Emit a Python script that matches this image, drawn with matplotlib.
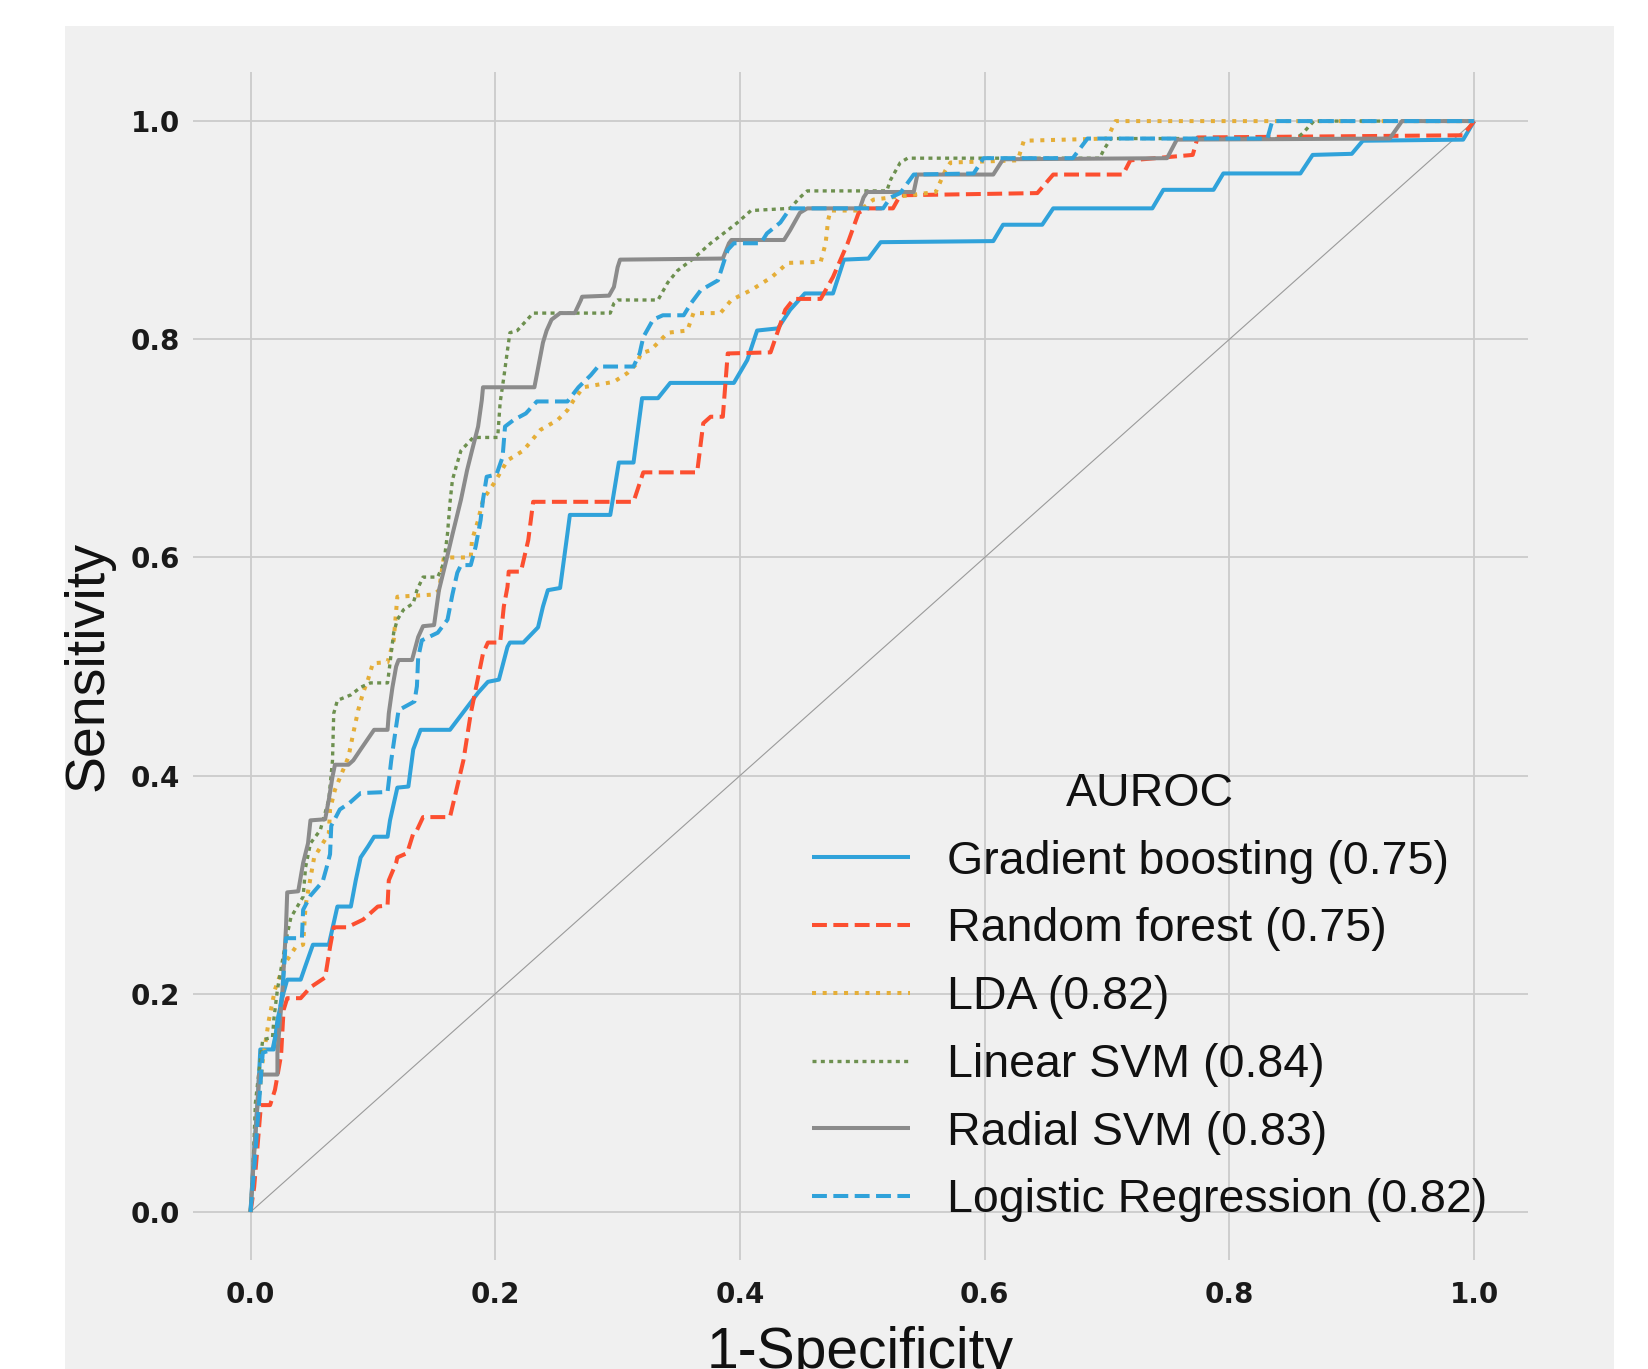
import matplotlib
matplotlib.use("Agg")
import matplotlib.pyplot as plt
from matplotlib.patches import Rectangle

# ---------------- data ----------------
models = ["Gradient boosting", "Random forest", "LDA", "Linear SVM", "Radial SVM", "Logistic Regression"]
auroc = [0.75, 0.75, 0.82, 0.84, 0.83, 0.82]

gb_fpr = [0, 0.003, 0.006, 0.008, 0.019, 0.022, 0.027, 0.030, 0.041, 0.045, 0.051, 0.064, 0.071, 0.082, 0.086, 0.090,
          0.096, 0.101, 0.112, 0.114, 0.120, 0.129, 0.133, 0.139, 0.163, 0.186, 0.194, 0.203, 0.210, 0.212, 0.223, 0.235,
          0.239, 0.243, 0.253, 0.259, 0.261, 0.294, 0.301, 0.313, 0.320, 0.333, 0.343, 0.395, 0.406, 0.414, 0.431, 0.441,
          0.453, 0.476, 0.485, 0.505, 0.515, 0.607, 0.615, 0.647, 0.656, 0.737, 0.746, 0.787, 0.795, 0.858, 0.868, 0.900,
          0.909, 0.991, 1.0]
gb_tpr = [0, 0.057, 0.103, 0.149, 0.149, 0.176, 0.201, 0.213, 0.213, 0.226, 0.245, 0.245, 0.280, 0.280, 0.304, 0.325,
          0.335, 0.344, 0.344, 0.359, 0.389, 0.390, 0.424, 0.442, 0.442, 0.476, 0.486, 0.488, 0.518, 0.522, 0.522, 0.536,
          0.555, 0.570, 0.572, 0.622, 0.639, 0.639, 0.687, 0.687, 0.746, 0.746, 0.760, 0.760, 0.781, 0.808, 0.810, 0.827,
          0.842, 0.842, 0.873, 0.874, 0.889, 0.890, 0.905, 0.905, 0.920, 0.920, 0.937, 0.937, 0.952, 0.952, 0.969, 0.970,
          0.982, 0.983, 1.0]

rf_fpr = [0, 0.003, 0.008, 0.008, 0.016, 0.020, 0.025, 0.027, 0.030, 0.041, 0.049, 0.061, 0.065, 0.068, 0.079, 0.092,
          0.104, 0.112, 0.113, 0.119, 0.120, 0.128, 0.133, 0.136, 0.141, 0.163, 0.174, 0.180, 0.186, 0.190, 0.194, 0.204,
          0.207, 0.210, 0.211, 0.221, 0.227, 0.231, 0.313, 0.321, 0.365, 0.370, 0.376, 0.386, 0.390, 0.425, 0.437, 0.444,
          0.466, 0.476, 0.488, 0.497, 0.504, 0.525, 0.531, 0.643, 0.656, 0.713, 0.719, 0.770, 0.774, 0.991, 1.0]
rf_tpr = [0, 0.023, 0.091, 0.098, 0.098, 0.112, 0.144, 0.185, 0.196, 0.196, 0.206, 0.215, 0.243, 0.261, 0.261, 0.268,
          0.280, 0.281, 0.304, 0.320, 0.325, 0.329, 0.347, 0.350, 0.362, 0.362, 0.414, 0.457, 0.490, 0.512, 0.522, 0.522,
          0.555, 0.573, 0.587, 0.587, 0.616, 0.651, 0.651, 0.678, 0.678, 0.723, 0.729, 0.729, 0.787, 0.788, 0.827, 0.837,
          0.837, 0.857, 0.888, 0.916, 0.920, 0.920, 0.932, 0.934, 0.951, 0.951, 0.964, 0.969, 0.985, 0.987, 1.0]

lda_fpr = [0, 0.003, 0.006, 0.010, 0.015, 0.020, 0.027, 0.037, 0.043, 0.045, 0.052, 0.064, 0.065, 0.069, 0.080, 0.084,
           0.088, 0.092, 0.096, 0.100, 0.112, 0.117, 0.120, 0.150, 0.154, 0.158, 0.180, 0.181, 0.186, 0.190, 0.199, 0.210,
           0.223, 0.237, 0.251, 0.259, 0.264, 0.272, 0.297, 0.308, 0.316, 0.319, 0.327, 0.341, 0.357, 0.362, 0.384, 0.393,
           0.409, 0.426, 0.439, 0.466, 0.470, 0.472, 0.474, 0.498, 0.509, 0.560, 0.568, 0.572, 0.627, 0.632, 0.700, 0.707,
           1.0]
lda_tpr = [0, 0.048, 0.094, 0.139, 0.176, 0.204, 0.226, 0.243, 0.245, 0.281, 0.325, 0.347, 0.369, 0.387, 0.417, 0.439,
           0.460, 0.476, 0.488, 0.503, 0.504, 0.524, 0.564, 0.566, 0.570, 0.600, 0.600, 0.616, 0.634, 0.653, 0.668, 0.689,
           0.698, 0.717, 0.726, 0.735, 0.744, 0.756, 0.761, 0.769, 0.778, 0.787, 0.790, 0.806, 0.808, 0.824, 0.824, 0.836,
           0.845, 0.857, 0.870, 0.871, 0.888, 0.909, 0.918, 0.918, 0.928, 0.935, 0.955, 0.962, 0.964, 0.982, 0.984, 1.0,
           1.0]

lsvm_fpr = [0, 0.002, 0.004, 0.007, 0.010, 0.018, 0.019, 0.022, 0.029, 0.033, 0.043, 0.045, 0.049, 0.057, 0.064, 0.067,
            0.068, 0.071, 0.082, 0.090, 0.098, 0.112, 0.114, 0.117, 0.120, 0.125, 0.133, 0.136, 0.141, 0.153, 0.158,
            0.161, 0.163, 0.165, 0.168, 0.172, 0.182, 0.202, 0.204, 0.207, 0.210, 0.212, 0.218, 0.231, 0.294, 0.297,
            0.300, 0.333, 0.341, 0.349, 0.362, 0.376, 0.390, 0.398, 0.409, 0.441, 0.449, 0.455, 0.520, 0.523, 0.531,
            0.537, 0.694, 0.697, 0.703, 0.855, 0.860, 0.869, 1.0]
lsvm_tpr = [0, 0.039, 0.100, 0.130, 0.158, 0.160, 0.176, 0.204, 0.249, 0.270, 0.289, 0.316, 0.338, 0.350, 0.378, 0.414,
            0.457, 0.469, 0.474, 0.481, 0.485, 0.485, 0.503, 0.531, 0.543, 0.552, 0.558, 0.570, 0.582, 0.582, 0.595,
            0.622, 0.650, 0.671, 0.683, 0.698, 0.710, 0.710, 0.742, 0.765, 0.790, 0.806, 0.808, 0.824, 0.824, 0.833,
            0.836, 0.836, 0.852, 0.863, 0.874, 0.888, 0.900, 0.907, 0.918, 0.920, 0.930, 0.936, 0.936, 0.946, 0.962,
            0.966, 0.966, 0.973, 0.984, 0.984, 0.989, 1.0, 1.0]

rsvm_fpr = [0, 0.003, 0.006, 0.007, 0.022, 0.022, 0.026, 0.029, 0.030, 0.039, 0.043, 0.047, 0.049, 0.061, 0.064, 0.067,
            0.069, 0.080, 0.084, 0.090, 0.101, 0.112, 0.113, 0.116, 0.119, 0.121, 0.132, 0.137, 0.141, 0.150, 0.154,
            0.161, 0.165, 0.172, 0.177, 0.181, 0.186, 0.189, 0.190, 0.232, 0.239, 0.242, 0.246, 0.253, 0.265, 0.270,
            0.271, 0.293, 0.297, 0.300, 0.302, 0.386, 0.391, 0.393, 0.436, 0.441, 0.449, 0.455, 0.498, 0.501, 0.504,
            0.542, 0.545, 0.607, 0.615, 0.749, 0.757, 0.931, 0.941, 1.0]
rsvm_tpr = [0, 0.054, 0.105, 0.126, 0.126, 0.146, 0.201, 0.261, 0.293, 0.294, 0.320, 0.338, 0.359, 0.360, 0.378, 0.399,
            0.410, 0.410, 0.414, 0.424, 0.442, 0.442, 0.457, 0.481, 0.500, 0.506, 0.506, 0.527, 0.537, 0.538, 0.570,
            0.602, 0.621, 0.653, 0.680, 0.698, 0.720, 0.744, 0.756, 0.756, 0.797, 0.808, 0.818, 0.824, 0.824, 0.836,
            0.839, 0.840, 0.848, 0.866, 0.873, 0.874, 0.888, 0.891, 0.891, 0.900, 0.916, 0.920, 0.920, 0.930, 0.935,
            0.935, 0.951, 0.951, 0.965, 0.966, 0.983, 0.984, 1.0, 1.0]

lr_fpr = [0, 0.003, 0.007, 0.010, 0.018, 0.022, 0.026, 0.029, 0.042, 0.043, 0.049, 0.059, 0.062, 0.065, 0.066, 0.073,
          0.081, 0.090, 0.112, 0.115, 0.119, 0.121, 0.134, 0.136, 0.137, 0.140, 0.153, 0.161, 0.165, 0.169, 0.172, 0.180,
          0.184, 0.188, 0.190, 0.193, 0.201, 0.206, 0.208, 0.215, 0.225, 0.234, 0.259, 0.268, 0.278, 0.284, 0.313, 0.318,
          0.321, 0.329, 0.337, 0.354, 0.360, 0.368, 0.382, 0.386, 0.390, 0.395, 0.417, 0.422, 0.433, 0.441, 0.517, 0.523,
          0.531, 0.542, 0.591, 0.599, 0.672, 0.684, 0.831, 0.835, 1.0]
lr_tpr = [0, 0.039, 0.100, 0.146, 0.149, 0.170, 0.201, 0.251, 0.251, 0.277, 0.290, 0.303, 0.315, 0.328, 0.354, 0.369,
          0.375, 0.384, 0.385, 0.414, 0.445, 0.460, 0.468, 0.482, 0.508, 0.524, 0.531, 0.543, 0.566, 0.586, 0.593, 0.593,
          0.610, 0.634, 0.653, 0.674, 0.676, 0.692, 0.720, 0.726, 0.732, 0.743, 0.743, 0.756, 0.767, 0.775, 0.775, 0.787,
          0.802, 0.818, 0.822, 0.822, 0.833, 0.845, 0.854, 0.868, 0.882, 0.888, 0.888, 0.897, 0.907, 0.920, 0.920, 0.930,
          0.934, 0.951, 0.952, 0.966, 0.966, 0.984, 0.984, 1.0, 1.0]

chance = [0, 1]
x_ticks = [0.0, 0.2, 0.4, 0.6, 0.8, 1.0]
y_ticks = [0.0, 0.2, 0.4, 0.6, 0.8, 1.0]

# ---------------- style ----------------
plt.rcParams['font.family'] = ['Liberation Sans', 'DejaVu Sans']
W, H = 1649, 1369
fig = plt.figure(figsize=(W / 100, H / 100), dpi=100, facecolor='white')

# grey panel behind the axes
panel = Rectangle((65 / W, 0), (1614 - 65) / W, (H - 26) / H,
                  transform=fig.transFigure, facecolor='#f0f0f0',
                  edgecolor='none', zorder=-10)
fig.patches.append(panel)

ax = fig.add_axes([193 / W, 1 - 1260 / H, (1528 - 193) / W, (1260 - 72) / H])
ax.set_zorder(5)
ax.set_facecolor('#f0f0f0')
for s in ax.spines.values():
    s.set_visible(False)
ax.set_xlim(-0.047, 1.044)
ax.set_ylim(-0.044, 1.045)
ax.grid(True, color='#cbcbcb', linewidth=1.3)
ax.set_axisbelow(True)

colors = ['#30a2da', '#fc4f30', '#e5ae38', '#6d904f', '#8b8b8b', '#30a2da']
styles = ['-', '--', ':', (0, (1.2, 1.3)), '-', '--']
widths = [2.9, 2.9, 2.9, 2.4, 2.9, 2.9]
curves = [(gb_fpr, gb_tpr), (rf_fpr, rf_tpr), (lda_fpr, lda_tpr),
          (lsvm_fpr, lsvm_tpr), (rsvm_fpr, rsvm_tpr), (lr_fpr, lr_tpr)]

ax.plot(chance, chance, color='#9a9a9a', linewidth=0.8, zorder=1)
for (f, t), name, a, c, ls, lw in zip(curves, models, auroc, colors, styles, widths):
    ax.plot(f, t, color=c, linestyle=ls, linewidth=lw, label=f"{name} ({a:.2f})",
            solid_capstyle='butt', zorder=2)

ax.set_xticks(x_ticks)
ax.set_yticks(y_ticks)
ax.set_xticklabels([f"{v:.1f}" for v in x_ticks])
ax.set_yticklabels([f"{v:.1f}" for v in y_ticks])
for lab in ax.get_xticklabels() + ax.get_yticklabels():
    lab.set_fontfamily('DejaVu Sans')
    lab.set_fontweight('bold')
    lab.set_fontsize(20)
    lab.set_color('#1a1a1a')
ax.tick_params(axis='both', length=0)
ax.tick_params(axis='x', pad=15)
ax.tick_params(axis='y', pad=9)

ax.set_xlabel("1-Specificity", fontsize=41, color='#111111', labelpad=12)
ax.set_ylabel("Sensitivity", fontsize=40, color='#111111', labelpad=12)

leg = ax.legend(title="AUROC", loc='upper left', bbox_to_anchor=(812 / W, 1 - 772 / H),
                bbox_transform=fig.transFigure, frameon=False, fontsize=33.5,
                title_fontsize=33.5, handlelength=2.1, handletextpad=0.8,
                labelspacing=0.51, borderpad=0, borderaxespad=0)
for t in leg.get_texts():
    t.set_color('#111111')
leg.get_title().set_color('#111111')

fig.savefig("out.png", dpi=100, facecolor=fig.get_facecolor())
